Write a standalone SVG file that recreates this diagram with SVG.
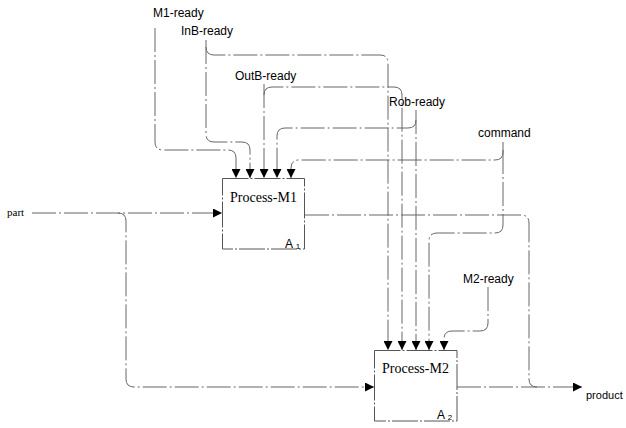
<svg xmlns="http://www.w3.org/2000/svg" width="626" height="428" viewBox="0 0 626 428">
<defs>
<marker id="arr" markerUnits="userSpaceOnUse" markerWidth="9" markerHeight="9" refX="9" refY="4.5" orient="auto">
<path d="M0,0 L9,4.5 L0,9 Z" fill="#000"/>
</marker>
<style>
.ln{fill:none;stroke:#666;stroke-width:1;stroke-dasharray:24 3 2 3}
.ar{marker-end:url(#arr)}
.box{fill:#fff;stroke:#555;stroke-width:1;stroke-dasharray:26 2 2 2}
.lbl{font-family:"Liberation Sans",Arial,sans-serif;font-size:12px;fill:#000}
.ttl{font-family:"Liberation Serif","Times New Roman",serif;font-size:14px;fill:#000}
.num{font-family:"Liberation Sans",Arial,sans-serif;font-size:12px;fill:#000}
.sub{font-size:8px}
.prt{font-family:"Liberation Serif","Times New Roman",serif;font-size:11px;fill:#000}
</style>
</defs>
<rect width="626" height="428" fill="#fff"/>
<g id="connectors">
<path class="ln ar" d="M155,28 V142 Q155,150 163,150 H228 Q236,150 236,158 V178"/>
<path class="ln ar" d="M206,40 V134 Q206,142 214,142 H242 Q250,142 250,150 V178"/>
<path class="ln ar" d="M206,47 Q206,55 214,55 H380 Q388,55 388,63 V350"/>
<path class="ln ar" d="M264,84 V178"/>
<path class="ln ar" d="M264,95 Q264,87 272,87 H394 Q402,87 402,95 V350"/>
<path class="ln ar" d="M416,110 V350"/>
<path class="ln ar" d="M416,120 Q416,128 408,128 H285 Q277,128 277,136 V178"/>
<path class="ln ar" d="M503,142 V152 Q503,160 495,160 H299 Q291,160 291,168 V178"/>
<path class="ln ar" d="M503,150 V225 Q503,233 495,233 H437 Q429,233 429,241 V350"/>
<path class="ln ar" d="M488,287 V323 Q488,331 480,331 H452 Q444,331 444,339 V350"/>
<path class="ln ar" d="M32,213 H222"/>
<path class="ln ar" d="M118,213 Q126,213 126,221 V379 Q126,387 134,387 H374"/>
<path class="ln" d="M305,215 H521 Q529,215 529,223 V379 Q529,387 537,387"/>
<path class="ln ar" d="M457,387 H582"/>
</g>
<g id="process-m1">
<rect class="box" x="222.5" y="178.5" width="82" height="70.5"/>
<text class="ttl" x="230" y="202">Process-M1</text>
<text class="num" x="285" y="248">A <tspan class="sub" dy="1">1</tspan></text>
</g>
<g id="process-m2">
<rect class="box" x="374.5" y="350.5" width="82.5" height="70.5"/>
<text class="ttl" x="382" y="373">Process-M2</text>
<text class="num" x="437" y="419">A <tspan class="sub" dy="1">2</tspan></text>
</g>
<g id="label-m1-ready"><text class="lbl" x="153" y="17">M1-ready</text></g>
<g id="label-inb-ready"><text class="lbl" x="181" y="35">InB-ready</text></g>
<g id="label-outb-ready"><text class="lbl" x="235" y="80">OutB-ready</text></g>
<g id="label-rob-ready"><text class="lbl" x="389" y="106">Rob-ready</text></g>
<g id="label-command"><text class="lbl" x="478" y="137">command</text></g>
<g id="label-m2-ready"><text class="lbl" x="463" y="283">M2-ready</text></g>
<g id="label-part"><text class="prt" x="7" y="216">part</text></g>
<g id="label-product"><text class="lbl" x="586" y="399" style="font-size:11px">product</text></g>
</svg>
